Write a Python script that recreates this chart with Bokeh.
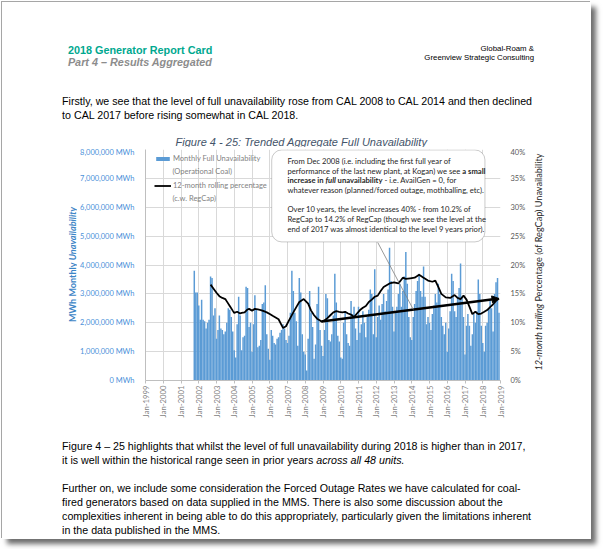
import os
import subprocess
import pandas as pd
from math import pi
from bokeh.plotting import figure
from bokeh.layouts import column, row
from bokeh.models import (Range1d, LinearAxis, FixedTicker, DatetimeTickFormatter, Label,
                          BoxAnnotation, Arrow, NormalHead, Legend, LegendItem, ColumnDataSource)
from bokeh.embed import file_html
from bokeh.resources import INLINE

# ---------------- data ----------------
bar_first_month = "2001-10-01"
# monthly full unavailability, million MWh (operational coal)
unavail_2001 = [3.80, 3.05, 3.05]  # Oct-Dec
unavail_2002 = [2.60, 2.10, 2.80, 2.10, 2.05, 1.80, 2.00, 2.10, 3.60, 3.55, 2.25, 2.50]
unavail_2003 = [1.45, 1.75, 2.25, 1.80, 1.75, 1.60, 1.70, 2.00, 2.50, 2.45, 2.20, 1.70]
unavail_2004 = [1.05, 0.80, 1.95, 2.90, 2.25, 1.05, 1.50, 1.55, 3.25, 3.20, 1.85, 2.00]
unavail_2005 = [1.00, 1.95, 2.95, 2.45, 1.15, 1.20, 1.40, 2.65, 2.70, 3.30, 1.60, 1.10]
unavail_2006 = [0.72, 1.75, 1.55, 1.30, 1.25, 1.45, 1.50, 1.65, 1.75, 1.95, 1.80, 1.40]
unavail_2007 = [1.30, 1.55, 2.35, 3.80, 3.10, 2.35, 2.05, 1.20, 3.55, 3.05, 1.60, 1.00]
unavail_2008 = [0.90, 0.35, 1.45, 3.10, 2.35, 1.85, 0.75, 1.25, 2.65, 3.25, 1.75, 1.20]
unavail_2009 = [0.85, 1.75, 3.00, 2.85, 1.40, 1.35, 1.60, 2.25, 3.70, 2.70, 1.55, 1.35]
unavail_2010 = [0.80, 0.75, 2.00, 2.40, 1.60, 1.30, 1.20, 2.75, 2.30, 2.55, 1.80, 1.40]
unavail_2011 = [2.55, 1.65, 1.95, 2.40, 2.00, 1.50, 2.20, 2.45, 3.15, 3.00, 1.60, 3.85]
unavail_2012 = [1.50, 2.20, 2.60, 2.10, 2.65, 3.00, 2.40, 2.75, 3.15, 4.60, 3.45, 2.55]
unavail_2013 = [1.70, 2.35, 2.55, 3.00, 3.35, 2.55, 3.10, 3.60, 4.45, 3.35, 2.20, 1.50]
unavail_2014 = [1.40, 2.20, 2.65, 3.10, 3.45, 3.70, 3.10, 2.90, 3.95, 2.90, 1.95, 2.20]
unavail_2015 = [2.00, 1.75, 2.30, 2.60, 3.00, 2.70, 3.35, 3.00, 2.20, 1.90, 1.60, 2.00]
unavail_2016 = [1.00, 1.80, 2.40, 3.70, 3.45, 2.40, 2.20, 2.90, 3.20, 4.05, 2.90, 2.20]
unavail_2017 = [0.90, 1.90, 2.30, 1.90, 1.20, 1.60, 2.30, 2.00, 2.40, 3.50, 3.00, 1.90]
unavail_2018 = [1.30, 1.00, 1.90, 2.00, 2.50, 2.80, 2.50, 1.70, 3.00, 3.40, 3.55, 2.35]

# 12-month rolling percentage (c.w. RegCap), %
rolling_dates = ["2002-09", "2002-11", "2003-01", "2003-03", "2003-05", "2003-07", "2003-08", "2003-10",
                 "2003-12", "2004-01", "2004-03", "2004-05", "2004-06", "2004-08", "2004-10", "2004-11",
                 "2005-01", "2005-03", "2005-05", "2005-07", "2005-09", "2005-11", "2006-01", "2006-03",
                 "2006-05", "2006-07", "2006-09", "2006-10", "2006-12", "2007-02", "2007-05", "2007-07",
                 "2007-09", "2007-12", "2008-03", "2008-05", "2008-07", "2008-09", "2008-11", "2008-12",
                 "2009-02", "2009-04", "2009-06", "2009-08", "2009-10", "2009-12", "2010-02", "2010-04",
                 "2010-06", "2010-08", "2010-10", "2010-12", "2011-02", "2011-04", "2011-06", "2011-08",
                 "2011-10", "2011-12", "2012-02", "2012-04", "2012-06", "2012-08", "2012-10", "2013-01",
                 "2013-04", "2013-07", "2013-09", "2013-12", "2014-03", "2014-06", "2014-09", "2014-12",
                 "2015-03", "2015-05", "2015-07", "2015-09", "2015-12", "2016-03", "2016-06", "2016-08",
                 "2016-10", "2016-12", "2017-02", "2017-04", "2017-06", "2017-08", "2017-10", "2017-12",
                 "2018-02", "2018-04", "2018-06", "2018-08", "2018-10", "2018-12"]
rolling_pct = [16.6, 15.9, 15.2, 14.6, 14.3, 14.1, 13.7, 12.9,
               12.1, 11.7, 11.9, 11.6, 11.7, 11.8, 12.3, 12.4,
               12.1, 12.4, 12.3, 12.2, 12.0, 11.8, 11.5, 11.2,
               10.9, 10.6, 9.6, 9.1, 9.4, 10.4, 11.8, 12.7,
               13.6, 14.1, 13.3, 12.1, 11.3, 10.7, 10.4, 10.2,
               10.4, 10.8, 11.3, 11.8, 12.0, 11.9, 11.8, 11.9,
               11.6, 11.4, 11.0, 11.6, 12.2, 12.6, 12.9, 13.6,
               14.0, 14.5, 14.7, 15.5, 16.2, 16.5, 16.8, 17.0,
               16.8, 17.8, 17.6, 17.7, 17.8, 18.3, 17.8, 17.3,
               17.1, 17.3, 16.2, 15.0, 14.4, 14.3, 14.8, 14.3,
               14.1, 14.7, 14.0, 12.8, 11.5, 11.9, 11.5, 11.6,
               11.9, 12.2, 12.7, 13.2, 13.8, 14.2]

trend_dates = ["2008-12-01", "2018-12-01"]
trend_pct = [10.2, 14.2]

x_tick_years = list(range(1999, 2020))
mwh_ticks = [0, 1000000, 2000000, 3000000, 4000000, 5000000, 6000000, 7000000, 8000000]
mwh_tick_labels = ["0 MWh", "1,000,000 MWh", "2,000,000 MWh", "3,000,000 MWh", "4,000,000 MWh",
                   "5,000,000 MWh", "6,000,000 MWh", "7,000,000 MWh", "8,000,000 MWh"]
pct_ticks = [0, 5, 10, 15, 20, 25, 30, 35, 40]
pct_tick_labels = ["0%", "5%", "10%", "15%", "20%", "25%", "30%", "35%", "40%"]

# ---------------- text measuring (to size fonts to the reference widths) ----------------
_fonts = {}


def _font(family, bold, italic):
    key = (family, bold, italic)
    if key not in _fonts:
        f = None
        try:
            from PIL import ImageFont
            pat = family + (":weight=200" if bold else "") + (":slant=100" if italic else "")
            path = subprocess.run(["fc-match", "-f", "%{file}", pat], capture_output=True,
                                  text=True, timeout=10).stdout.strip()
            if path and os.path.exists(path):
                f = ImageFont.truetype(path, 100)
        except Exception:
            f = None
        _fonts[key] = f
    return _fonts[key]


def tw(s, family, size, bold=False, italic=False):
    f = _font(family, bold, italic)
    if f is None:
        return len(s) * size * (0.53 if bold else 0.49)
    return f.getlength(s) * size / 100.0


def fit(s, family, width, bold=False, italic=False):
    return width / tw(s, family, 1.0, bold, italic)


def ms(s):
    return pd.Timestamp(s).value / 1e6


CHART_FONT = "Lato"
PAGE_FONT = "Liberation Sans"

# ---------------- source tables ----------------
all_vals = (unavail_2001 + unavail_2002 + unavail_2003 + unavail_2004 + unavail_2005 + unavail_2006 +
            unavail_2007 + unavail_2008 + unavail_2009 + unavail_2010 + unavail_2011 + unavail_2012 +
            unavail_2013 + unavail_2014 + unavail_2015 + unavail_2016 + unavail_2017 + unavail_2018)
months = pd.date_range(bar_first_month, periods=len(all_vals), freq="MS")
bar_src = ColumnDataSource(dict(x=months, top=[v * 1e6 for v in all_vals]))
line_src = ColumnDataSource(dict(x=pd.to_datetime(rolling_dates), y=rolling_pct))

# ---------------- page geometry ----------------
W = 589
PX0, PY0 = 2, 2
H1, H2, H3 = 145, 285, 107
Y_CHART = PY0 + H1
Y_FOOT = Y_CHART + H2
X_CH0, X_CH1 = 77, 528                   # page x range of the chart figure
FRAME_L, FRAME_R, FRAME_T, FRAME_B = 138, 507, 149, 380


def text_fig(w, h):
    f = figure(width=w, height=h, x_range=Range1d(0, w), y_range=Range1d(h, 0), title=None,
               output_backend="svg", toolbar_location=None, x_axis_location=None,
               y_axis_location=None, min_border=0, outline_line_color=None)
    f.grid.visible = False
    f.background_fill_color = "white"
    f.border_fill_color = "white"
    if "frame_align" in f.properties():
        f.frame_align = False
    return f


def _style(bold, italic):
    s = ("bold " if bold else "") + ("italic" if italic else "")
    return s.strip() or "normal"


def put(f, x0, y0, s, x, y, size, color="#000000", font=PAGE_FONT, bold=False, italic=False,
        align="left", angle=0.0, baseline="alphabetic"):
    f.add_layout(Label(x=x - x0, y=y - y0, text=s, text_font=font, text_font_size=f"{size:.2f}px",
                       text_color=color, text_font_style=_style(bold, italic), text_align=align,
                       text_baseline=baseline, angle=angle))


# ---------------- header ----------------
head = text_fig(W, H1)
s_h1 = fit("2018 Generator Report Card", PAGE_FONT, 144.5, bold=True)
put(head, PX0, PY0, "2018 Generator Report Card", 67.4, 49.3, s_h1, "#00a88f", bold=True)
put(head, PX0, PY0, "Part 4 \u2013 Results Aggregated", 67.4, 61.8, s_h1, "#8c8c8c", bold=True, italic=True)
s_h2 = fit("Greenview Strategic Consulting", PAGE_FONT, 109.8)
put(head, PX0, PY0, "Global-Roam &", 533.5, 47.5, s_h2, align="right")
put(head, PX0, PY0, "Greenview Strategic Consulting", 533.5, 57, s_h2, align="right")
body1 = "Firstly, we see that the level of full unavailability rose from CAL 2008 to CAL 2014 and then declined"
s_body = fit(body1, PAGE_FONT, 470.0)
put(head, PX0, PY0, body1, 61.6, 100.5, s_body)
put(head, PX0, PY0, "to CAL 2017 before rising somewhat in CAL 2018.", 61.6, 114.5, s_body)
title = "Figure 4 - 25: Trended Aggregate Full Unavailability"
s_title = fit(title, PAGE_FONT, 251.5, italic=True)
put(head, PX0, PY0, title, 175, 141.7, s_title, "#44546a", italic=True)

# ---------------- left / right axis titles ----------------
lfig = text_fig(X_CH0 - PX0, H2)
lt1, lt2 = "MWh Monthly ", "Unavailability"
s_lt = 115.0 / (tw(lt1, CHART_FONT, 1, True) + tw(lt2, CHART_FONT, 1, True, True))
l_start = 264 + (tw(lt1, CHART_FONT, s_lt, True) + tw(lt2, CHART_FONT, s_lt, True, True)) / 2
put(lfig, PX0, Y_CHART, lt1.strip(), 71.7, l_start, s_lt, "#3d85c6", CHART_FONT, bold=True,
    angle=pi / 2, baseline="middle")
put(lfig, PX0, Y_CHART, lt2, 71.7, l_start - tw(lt1, CHART_FONT, s_lt, True), s_lt, "#3d85c6",
    CHART_FONT, bold=True, italic=True, angle=pi / 2, baseline="middle")

rfig = text_fig(PX0 + W - X_CH1, H2)
rt1, rt2 = "12-month trailing ", "Percentage (of RegCap) Unavailability"
s_rt = 217.0 / (tw(rt1, CHART_FONT, 1, italic=True) + tw(rt2, CHART_FONT, 1))
r_start = 261.5 + (tw(rt1, CHART_FONT, s_rt, italic=True) + tw(rt2, CHART_FONT, s_rt)) / 2
put(rfig, X_CH1, Y_CHART, rt1.strip(), 537.5, r_start, s_rt, "#262626", CHART_FONT, italic=True,
    angle=pi / 2, baseline="middle")
put(rfig, X_CH1, Y_CHART, rt2, 537.5, r_start - tw(rt1, CHART_FONT, s_rt, italic=True), s_rt,
    "#262626", CHART_FONT, angle=pi / 2, baseline="middle")

# ---------------- chart ----------------
PW = X_CH1 - X_CH0
p = figure(width=PW, height=H2, x_axis_type="datetime", title=None,
           x_range=Range1d(pd.Timestamp("1999-01-01"), pd.Timestamp("2019-01-01")),
           y_range=Range1d(0, 8e6), output_backend="svg", toolbar_location=None,
           min_border_left=FRAME_L - X_CH0, min_border_top=FRAME_T - Y_CHART,
           min_border_right=X_CH1 - FRAME_R, min_border_bottom=Y_CHART + H2 - FRAME_B)
if "frame_align" in p.properties():
    p.frame_align = False
p.outline_line_color = None
p.background_fill_color = "white"
p.border_fill_color = "white"
p.extra_y_ranges = {"pct": Range1d(0, 40)}

bars = p.vbar(x="x", top="top", width=30.5 * 86400000, source=bar_src,
              fill_color="#5b9bd5", line_color=None)
roll = p.line(x="x", y="y", source=line_src, y_range_name="pct", line_color="black", line_width=1.8)

s_tick = fit("8,000,000 MWh", CHART_FONT, 54.5)
s_xtick = fit("Jan-1999", CHART_FONT, 32.0)

xt = FixedTicker(ticks=[ms(f"{y}-01-01") for y in x_tick_years])
xa = p.xaxis[0]
xa.ticker = xt
xa.formatter = DatetimeTickFormatter(years="%b-%Y", months="%b-%Y", days="%b-%Y")
xa.major_label_orientation = pi / 2
xa.major_label_text_font = CHART_FONT
xa.major_label_text_font_size = f"{s_xtick:.2f}px"
xa.major_label_text_color = "#7f7f7f"
xa.axis_line_color = "#bfbfbf"
xa.major_tick_line_color = "#bfbfbf"
xa.major_tick_in = 0
xa.major_tick_out = 3
xa.minor_tick_line_color = None
xa.major_label_standoff = 2

ya = p.yaxis[0]
ya.ticker = FixedTicker(ticks=mwh_ticks)
ya.major_label_overrides = {t: l for t, l in zip(mwh_ticks, mwh_tick_labels)}
ya.major_label_text_font = CHART_FONT
ya.major_label_text_font_size = f"{s_tick:.2f}px"
ya.major_label_text_color = "#4a90d9"
ya.axis_line_color = "#bfbfbf"
ya.major_tick_line_color = None
ya.minor_tick_line_color = None
ya.major_label_standoff = 5

ra = LinearAxis(y_range_name="pct", ticker=FixedTicker(ticks=pct_ticks))
ra.major_label_overrides = {t: l for t, l in zip(pct_ticks, pct_tick_labels)}
ra.major_label_text_font = CHART_FONT
ra.major_label_text_font_size = f"{s_tick:.2f}px"
ra.major_label_text_color = "#595959"
ra.axis_line_color = None
ra.major_tick_line_color = None
ra.minor_tick_line_color = None
ra.major_label_standoff = 4
p.add_layout(ra, "right")

p.xgrid.ticker = xt
p.ygrid.ticker = FixedTicker(ticks=mwh_ticks)
p.xgrid.grid_line_color = "#d9d9d9"
p.ygrid.grid_line_color = "#d9d9d9"

# trend arrow
p.add_layout(Arrow(end=NormalHead(size=7, fill_color="black", line_color="black"),
                   x_start=ms(trend_dates[0]), y_start=trend_pct[0],
                   x_end=ms(trend_dates[1]), y_end=trend_pct[1],
                   y_range_name="pct", line_color="black", line_width=2.5))

# callout box + pointer
p.add_layout(BoxAnnotation(left=ms("2006-02-10"), right=ms("2018-02-15"), top=7.985e6, bottom=4.8e6,
                           fill_color="white", fill_alpha=1.0, line_color="#505050", line_width=1,
                           border_radius=10))
p.add_layout(Arrow(end=None, x_start=ms("2012-02-01"), y_start=23.9, x_end=ms("2014-02-01"), y_end=12.3,
                   y_range_name="pct", line_color="#7f7f7f", line_width=0.8))

# legend
s_leg = fit("Monthly Full Unavailability", CHART_FONT, 87.5)
legend = Legend(items=[LegendItem(label="Monthly Full Unavailability", renderers=[bars]),
                       LegendItem(label="12-month rolling percentage", renderers=[roll])],
                location=(9, 190), orientation="vertical", glyph_width=17, glyph_height=5,
                label_text_font=CHART_FONT, label_text_font_size=f"{s_leg:.2f}px",
                label_text_color="#7f7f7f", label_height=9, label_standoff=2, spacing=18,
                padding=0, margin=0, border_line_color=None, background_fill_alpha=0)
p.add_layout(legend)


def chart_label(s, x, y, size, color="#262626", bold=False, italic=False, align="left"):
    lead = len(s) - len(s.lstrip())
    x = x + tw(s[:lead], CHART_FONT, size, bold, italic)
    p.add_layout(Label(x=x - FRAME_L, y=FRAME_B - y, x_units="screen", y_units="screen",
                       text=s.strip(), text_font=CHART_FONT, text_font_size=f"{size:.2f}px",
                       text_color=color, text_font_style=_style(bold, italic), text_align=align,
                       text_baseline="alphabetic"))


chart_label("(Operational Coal)", 165, 170.7, s_leg, "#7f7f7f")
chart_label("(c.w. RegCap)", 165, 197.7, s_leg, "#7f7f7f")

CX = 280.0
l2a, l2b = "performance of the last new plant, at Kogan) we see ", "a small"
s_c = 198.0 / (tw(l2a, CHART_FONT, 1) + tw(l2b, CHART_FONT, 1, True))
chart_label("From Dec 2008 (i.e. including the first full year of", CX, 160, s_c)
chart_label(l2a, CX, 170, s_c)
chart_label(l2b, CX + tw(l2a, CHART_FONT, s_c), 170, s_c, bold=True)
runs = [("increase in ", True, False), ("full", True, True), (" unavailability", True, False),
        (" - i.e. AvailGen = 0, for", False, False)]
xx = CX
for s, b, it in runs:
    chart_label(s, xx, 179.5, s_c, bold=b, italic=it)
    xx += tw(s, CHART_FONT, s_c, b, it)
chart_label("whatever reason (planned/forced outage, mothballing, etc).", CX, 189, s_c)
chart_label("Over 10 years, the level increases 40% - from 10.2% of", CX, 208.5, s_c)
chart_label("RegCap to 14.2% of RegCap (though we see the level at the", CX, 218.5, s_c)
chart_label("end of 2017 was almost identical to the level 9 years prior).", CX, 228, s_c)

# ---------------- footer ----------------
foot = text_fig(W, H3)
put(foot, PX0, Y_FOOT, "Figure  4 \u2013 25 highlights that whilst the level of full unavailability during 2018 "
    "is higher than in 2017,", 61.6, 445, s_body)
f2a = "it is well within the historical range seen in prior years "
put(foot, PX0, Y_FOOT, f2a.strip(), 61.6, 459, s_body)
put(foot, PX0, Y_FOOT, "across all 48 units.", 61.6 + tw(f2a, PAGE_FONT, s_body), 459, s_body, italic=True)
put(foot, PX0, Y_FOOT, "Further on, we include some consideration the Forced Outage Rates we have calculated "
    "for coal-", 61.6, 487.5, s_body)
put(foot, PX0, Y_FOOT, "fired generators based on data supplied in the MMS.  There is also some discussion "
    "about the", 61.6, 501.5, s_body)
put(foot, PX0, Y_FOOT, "complexities inherent in being able to do this appropriately, particularly given the "
    "limitations inherent", 61.6, 515.5, s_body)
put(foot, PX0, Y_FOOT, "in the data published in the MMS.", 61.6, 529.5, s_body)

page = column(head, row(lfig, p, rfig, spacing=0), foot, spacing=0)
page.styles = {"margin-left": f"{PX0}px", "margin-top": f"{PY0}px",
               "box-shadow": "-1px -1px 0 #a6a6a6, 5px 5px 5px #6e6e6e"}

open("out.html", "w").write(file_html(page, INLINE))
